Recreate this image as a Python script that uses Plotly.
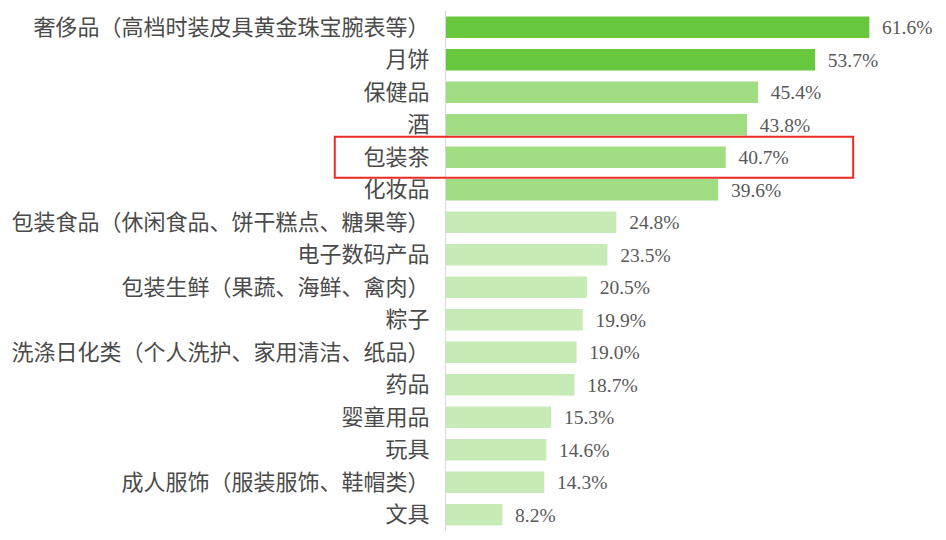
import plotly.graph_objects as go

categories = ["奢侈品（高档时装皮具黄金珠宝腕表等）", "月饼", "保健品", "酒", "包装茶", "化妆品",
              "包装食品（休闲食品、饼干糕点、糖果等）", "电子数码产品", "包装生鲜（果蔬、海鲜、禽肉）",
              "粽子", "洗涤日化类（个人洗护、家用清洁、纸品）", "药品", "婴童用品", "玩具",
              "成人服饰（服装服饰、鞋帽类）", "文具"]
values = [61.6, 53.7, 45.4, 43.8, 40.7, 39.6, 24.8, 23.5, 20.5, 19.9, 19.0, 18.7, 15.3, 14.6, 14.3, 8.2]
tiers = [0, 0, 1, 1, 1, 1, 2, 2, 2, 2, 2, 2, 2, 2, 2, 2]
highlight = "包装茶"

tier_colors = ["#67c840", "#9fdc82", "#c6ebb6"]
colors = [tier_colors[t] for t in tiers]

fig = go.Figure()
fig.add_trace(go.Bar(
    x=values, y=categories, orientation='h',
    marker=dict(color=colors, line=dict(width=0)),
    text=["\u00a0\u00a0%.1f%%" % v for v in values],
    textposition='outside', cliponaxis=False,
    textfont=dict(family="Liberation Serif", size=20, color="#595959"),
))

# red box round the highlighted row (paper coords so it can reach into the labels)
hi = categories.index(highlight)
n = len(categories)
row_h = 1.0 / n
yc = 1 - (hi + 0.5) * row_h
fig.add_shape(type="rect", xref="paper", yref="paper",
              x0=-0.227, x1=0.831, y0=yc - 0.63 * row_h, y1=yc + 0.63 * row_h,
              line=dict(color="#ee2a24", width=2))

# page body has an 8px margin, so margins are shifted to match
fig.update_layout(
    width=946, height=540,
    margin=dict(l=438, r=18, t=3, b=17),
    paper_bgcolor="white", plot_bgcolor="white",
    bargap=0.34, showlegend=False,
    xaxis=dict(range=[0, 71.3], visible=False),
    yaxis=dict(autorange="reversed", showline=True, linecolor="#d9d9d9", linewidth=1,
               ticks="", ticklabelstandoff=11, showgrid=False, automargin=False,
               tickfont=dict(family="Noto Sans CJK SC", size=22, color="#4a4a4a")),
)

fig.write_html("out.html")
